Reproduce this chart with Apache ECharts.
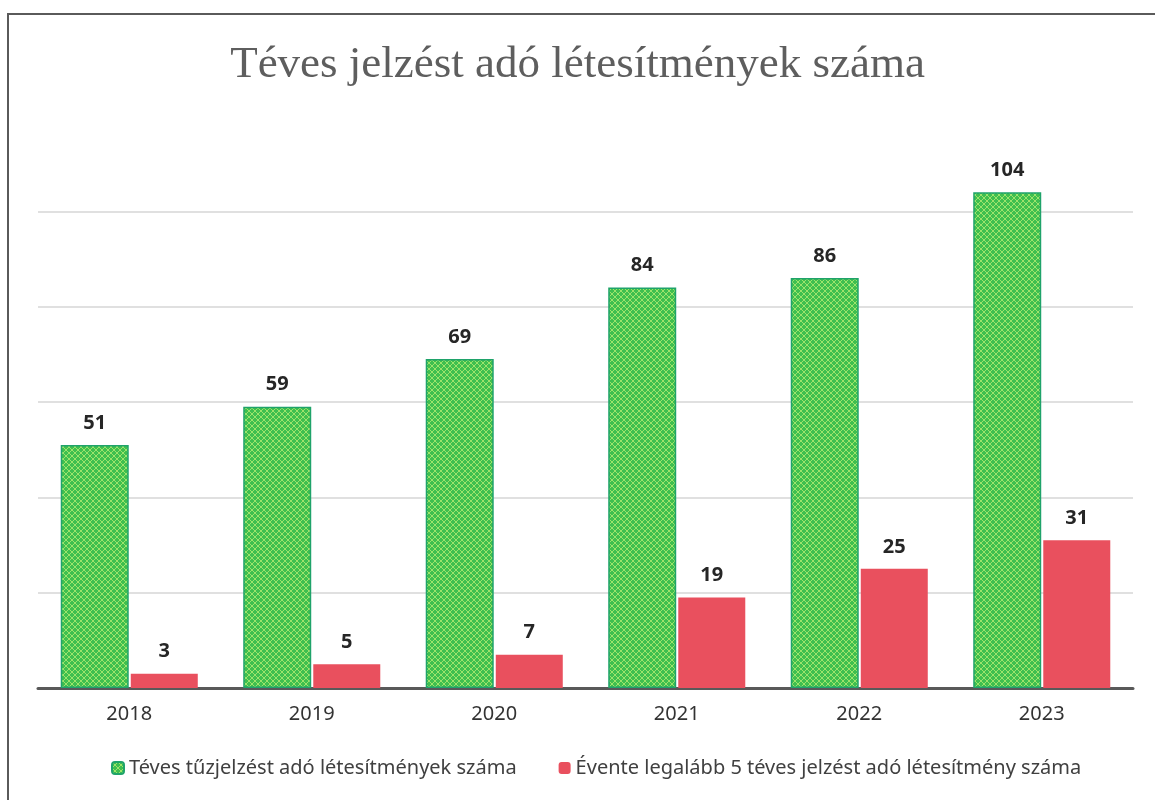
<!DOCTYPE html>
<html>
<head>
<meta charset="utf-8">
<script src="https://cdn.jsdelivr.net/npm/echarts@6/dist/echarts.min.js"></script>
<style>
  html, body { margin: 0; padding: 0; background: #fff; }
</style>
</head>
<body>
<div id="main" style="width: 1155px; height: 800px"></div>
<script>
var years = ['2018', '2019', '2020', '2021', '2022', '2023'];
var tevesValues = [51, 59, 69, 84, 86, 104];
var legalabbValues = [3, 5, 7, 19, 25, 31];
var seriesNames = ['Téves tűzjelzést adó létesítmények száma', 'Évente legalább 5 téves jelzést adó létesítmény száma'];

// racsos zold minta a bal oldali oszlopokhoz
var makePattern = function () {
  var c = document.createElement('canvas');
  c.width = 6;
  c.height = 6;
  var ctx = c.getContext('2d');
  ctx.fillStyle = '#3fbf4f';
  ctx.fillRect(0, 0, 6, 6);
  ctx.strokeStyle = '#a8e66e';
  ctx.lineWidth = 0.9;
  ctx.beginPath();
  ctx.moveTo(0, 0); ctx.lineTo(6, 6);
  ctx.moveTo(6, 0); ctx.lineTo(0, 6);
  ctx.stroke();
  return c;
};

var chartDom = document.getElementById('main');
var myChart = echarts.init(chartDom);

var labelStyle = {
  show: true,
  position: 'top',
  distance: 12,
  fontFamily: 'Noto Sans',
  fontWeight: 'bold',
  fontSize: 20,
  color: '#262626'
};

var option = {
  backgroundColor: '#fff',
  animation: false,
  title: {
    text: 'Téves jelzést adó létesítmények száma',
    left: 'center',
    top: 38,
    textStyle: {
      fontFamily: 'Liberation Serif',
      fontWeight: 'normal',
      fontSize: 45,
      color: '#5e5e5e'
    }
  },
  graphic: [{
    type: 'rect',
    shape: { x: 8, y: 14, width: 1170, height: 820 },
    style: { fill: 'none', stroke: '#5a5a5a', lineWidth: 2 },
    silent: true
  }],
  legend: {
    bottom: 17,
    left: 106,
    itemWidth: 12,
    itemHeight: 12,
    itemGap: 42,
    textStyle: {
      fontFamily: 'Noto Sans',
      fontSize: 20,
      color: '#404040'
    },
    data: seriesNames
  },
  grid: {
    left: 38,
    right: 22,
    top: 116,
    bottom: 112
  },
  xAxis: {
    type: 'category',
    data: years,
    axisLine: { lineStyle: { color: '#595959', width: 3 } },
    axisTick: { show: false },
    axisLabel: {
      margin: 16,
      fontFamily: 'Noto Sans',
      fontSize: 20,
      color: '#333333'
    }
  },
  yAxis: {
    type: 'value',
    min: 0,
    max: 120,
    interval: 20,
    axisLabel: { show: false },
    axisLine: { show: false },
    axisTick: { show: false },
    splitLine: {
      lineStyle: {
        color: ['#d6d6d6', '#d6d6d6', '#d6d6d6', '#d6d6d6', '#d6d6d6', '#d6d6d6', 'rgba(0,0,0,0)'],
        width: 1.5
      }
    }
  },
  series: [{
    name: seriesNames[0],
    type: 'bar',
    barWidth: 68,
    barGap: '3%',
    data: tevesValues,
    itemStyle: {
      color: { image: makePattern(), repeat: 'repeat' },
      borderColor: '#1fa36a',
      borderWidth: 1.5
    },
    label: labelStyle
  }, {
    name: seriesNames[1],
    type: 'bar',
    barWidth: 67,
    data: legalabbValues,
    itemStyle: {
      color: '#e9505e'
    },
    label: labelStyle
  }]
};

option && myChart.setOption(option);
</script>
</body>
</html>
